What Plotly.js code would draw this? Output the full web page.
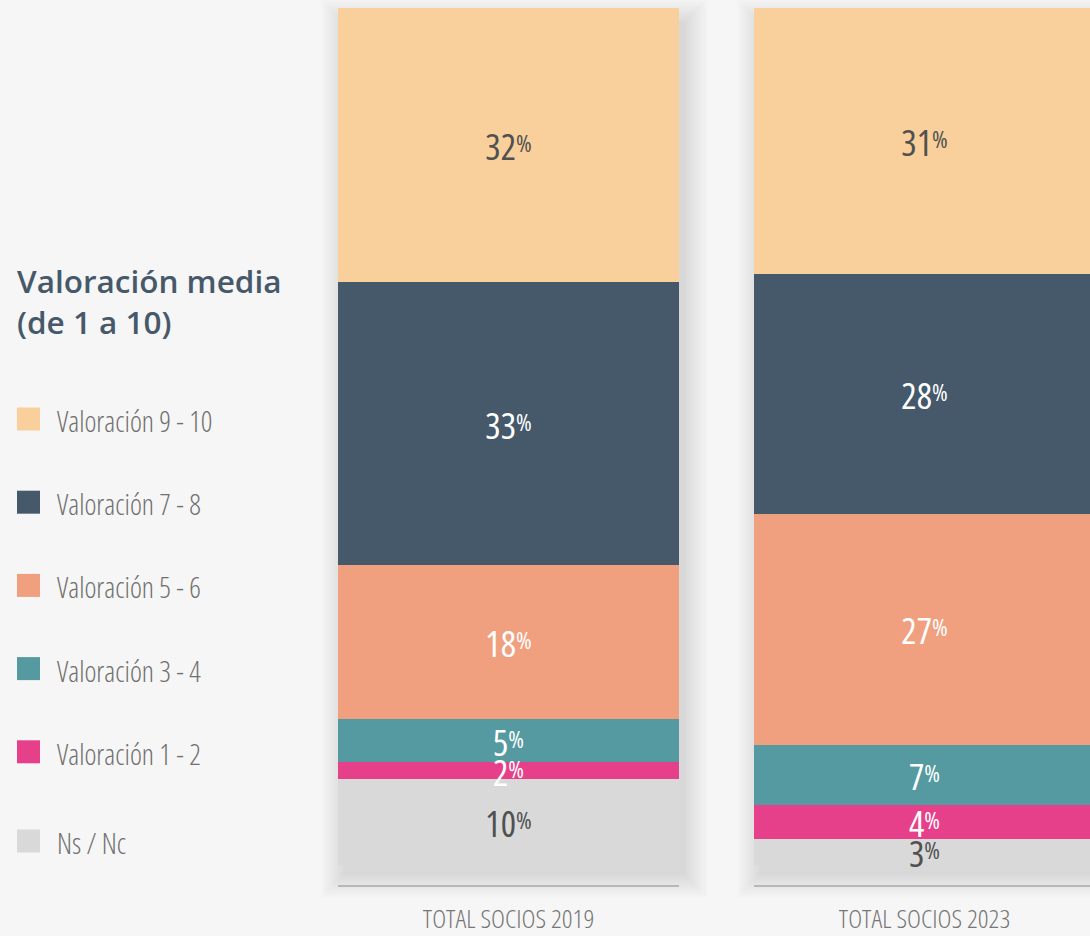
<!DOCTYPE html>
<html><head><meta charset="utf-8">
<script src="https://cdn.plot.ly/plotly-3.0.1.min.js"></script>
<style>html,body{margin:0;padding:0;background:#f6f6f6;} #chart{width:1090px;height:936px;}</style>
</head><body><div id="chart"></div>
<script>
// ---- data ----
const groups = ['TOTAL SOCIOS 2019', 'TOTAL SOCIOS 2023'];
const seriesNames = ['Ns / Nc', 'Valoración 1 - 2', 'Valoración 3 - 4', 'Valoración 5 - 6', 'Valoración 7 - 8', 'Valoración 9 - 10'];
const nsnc   = [10, 3];
const val12  = [2, 4];
const val34  = [5, 7];
const val56  = [18, 27];
const val78  = [33, 28];
const val910 = [32, 31];
const legendTitle = 'Valoración media<br>(de 1 a 10)';

// ---- styles ----
const seriesValues = [nsnc, val12, val34, val56, val78, val910];
const colors = ['#d9d9d9', '#e6408a', '#559aa0', '#f0a07f', '#46596b', '#f9d09b'];
const textColors = ['#505050', '#ffffff', '#ffffff', '#ffffff', '#ffffff', '#505050'];
const FONT = '"Open Sans", "Noto Sans", sans-serif';
const stretch = (s, pct) => '<span style="font-stretch:' + pct + '%">' + s + '</span>';

const W = 1090, H = 936, MT = 8, MB = 71;
const PH = H - MT - MB;
const unitPx = 416;
const c0 = 508.5;
const xr = [-c0 / unitPx, 1 + (W - (c0 + unitPx)) / unitPx];
const barW = 0.82;
const pxX = px => px / unitPx;
const pxY = px => px * 100 / PH;
const paperX = px => px / W;
const paperY = py => (H - MB - py) / PH;

// stacked bars
const traces = seriesValues.map((vals, i) => ({
  type: 'bar',
  x: groups,
  y: vals,
  name: seriesNames[i],
  width: barW,
  marker: { color: colors[i], line: { width: 0 } },
  hoverinfo: 'none',
  showlegend: false
}));

// value labels drawn on top of all bars, at the middle of each segment
const cum = groups.map(() => 0);
seriesValues.forEach((vals, i) => {
  const mids = vals.map((v, j) => { const m = cum[j] + v / 2; cum[j] += v; return m - pxY(6); });
  traces.push({
    type: 'scatter', mode: 'text',
    x: groups, y: mids,
    text: vals.map(v => stretch(v + '<span style="font-size:24px;baseline-shift:8px">%</span>', 75)),
    textposition: 'middle center',
    textfont: { family: FONT, size: 36, weight: 400, color: textColors[i] },
    hoverinfo: 'none', showlegend: false, cliponaxis: false
  });
});

const shapes = [];
const annotations = [];

groups.forEach((g, i) => {
  for (let k = 0; k < 10; k++) {
    const s = k * 2.5;
    shapes.push({
      type: 'rect', layer: 'below', xref: 'x', yref: 'paper',
      x0: i - barW / 2 + pxX(6 - s), x1: i + barW / 2 + pxX(6 + s),
      y0: paperY(H - MB + 10 + s), y1: paperY(MT + 14 - s),
      fillcolor: 'rgba(0,0,0,0.01)', line: { width: 0 }
    });
  }
  shapes.push({
    type: 'line', xref: 'x', yref: 'paper',
    x0: i - barW / 2, x1: i + barW / 2,
    y0: paperY(886), y1: paperY(886),
    line: { color: '#a9a9a9', width: 1.5 }
  });
});

annotations.push({
  xref: 'paper', yref: 'paper', x: paperX(15), y: paperY(301),
  xanchor: 'left', yanchor: 'middle', align: 'left', showarrow: false,
  text: legendTitle,
  font: { family: FONT, size: 31.5, weight: 600, color: '#46596b' }
});
const legendOrder = [5, 4, 3, 2, 1, 0];
legendOrder.forEach((si, j) => {
  const cy = 419 + j * 83.2 + (j === 5 ? 6 : 0);
  shapes.push({
    type: 'rect', xref: 'paper', yref: 'paper',
    x0: paperX(17), x1: paperX(40), y0: paperY(cy + 11.5), y1: paperY(cy - 11.5),
    fillcolor: colors[si], line: { width: 0 }
  });
  annotations.push({
    xref: 'paper', yref: 'paper', x: paperX(55), y: paperY(cy + 2),
    xanchor: 'left', yanchor: 'middle', showarrow: false,
    text: stretch(seriesNames[si], 75),
    font: { family: FONT, size: 28.5, weight: 300, color: '#707070' }
  });
});

const layout = {
  width: W, height: H,
  margin: { l: 0, r: 0, t: MT, b: MB, pad: 0 },
  paper_bgcolor: '#f6f6f6', plot_bgcolor: 'rgba(0,0,0,0)',
  barmode: 'stack',
  showlegend: false,
  xaxis: {
    type: 'category', range: xr, showgrid: false, zeroline: false, showline: false,
    tickmode: 'array', tickvals: groups, ticktext: groups.map(g => stretch(g, 85)),
    ticks: '', ticklabelstandoff: 35,
    tickfont: { family: FONT, size: 26.5, weight: 300, color: '#777777' }, fixedrange: true
  },
  yaxis: { range: [0, 100], visible: false, fixedrange: true },
  shapes: shapes,
  annotations: annotations,
  hovermode: false
};

Plotly.newPlot('chart', traces, layout, { displayModeBar: false, staticPlot: true });
</script></body></html>
